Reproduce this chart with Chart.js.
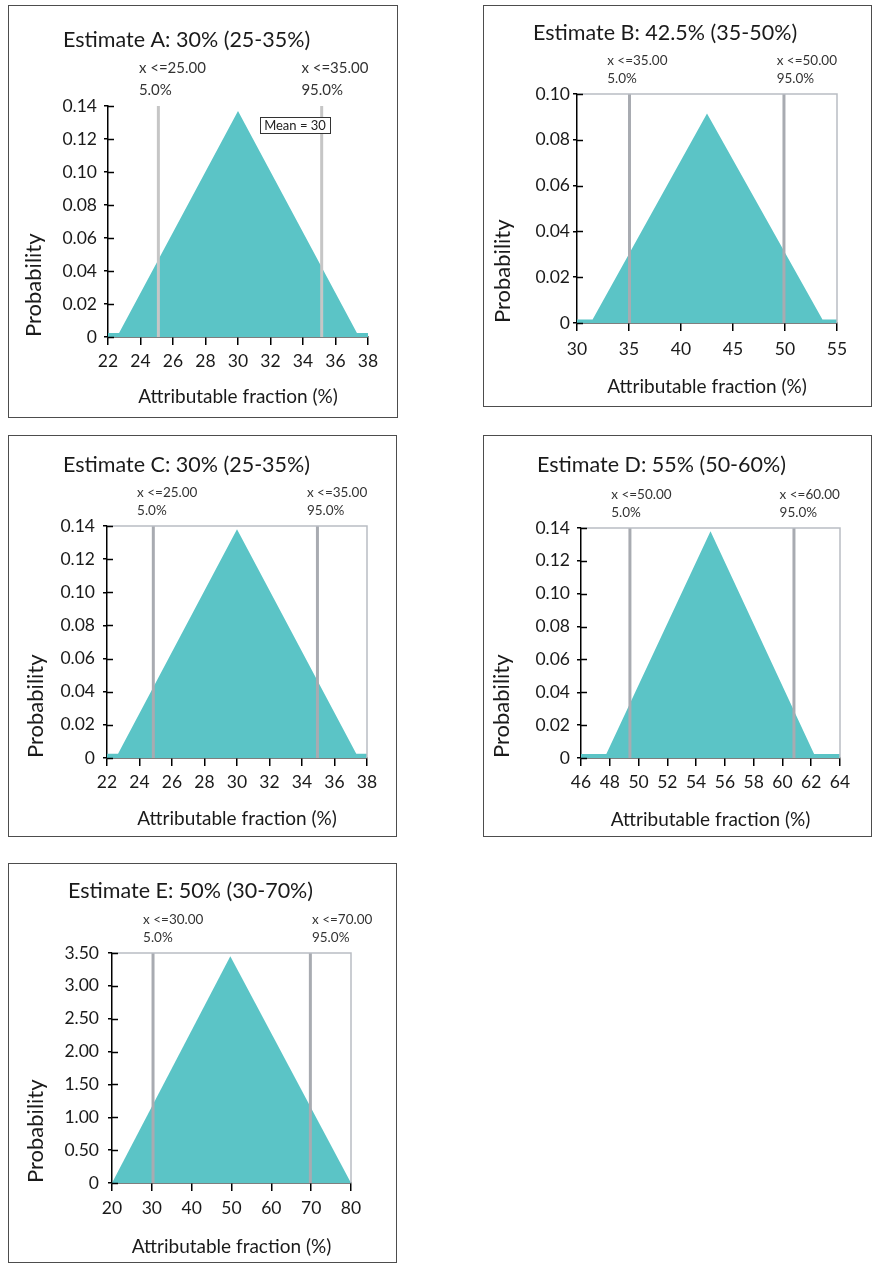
<!DOCTYPE html>
<html>
<head>
<meta charset="utf-8">
<script src="https://cdn.jsdelivr.net/npm/chart.js@4.4.1/dist/chart.umd.min.js"></script>
<style>
  body { margin: 0; background: #fff; width: 875px; height: 1264px; position: relative; overflow: hidden; }
  .panel { position: absolute; border: 1px solid #4d4d4d; box-sizing: border-box; }
  .panel canvas { display: block; }
</style>
</head>
<body>
<div class="panel" style="left:8px;top:5px;width:390px;height:413px"><canvas id="cA"></canvas></div>
<div class="panel" style="left:483px;top:5px;width:389px;height:402px"><canvas id="cB"></canvas></div>
<div class="panel" style="left:8px;top:435px;width:389px;height:402px"><canvas id="cC"></canvas></div>
<div class="panel" style="left:483px;top:435px;width:389px;height:402px"><canvas id="cD"></canvas></div>
<div class="panel" style="left:8px;top:863px;width:389px;height:400px"><canvas id="cE"></canvas></div>
<script>
// --- data ---
const titles = [
  'Estimate A: 30% (25-35%)',
  'Estimate B: 42.5% (35-50%)',
  'Estimate C: 30% (25-35%)',
  'Estimate D: 55% (50-60%)',
  'Estimate E: 50% (30-70%)',
];

// triangle outlines (x = attributable fraction, p = probability)
const estA_x = [22, 22.68, 30, 37.32, 38];
const estA_p = [0.0025, 0.0025, 0.137, 0.0025, 0.0025];
const estB_x = [30, 31.5, 42.5, 53.6, 55];
const estB_p = [0.0015, 0.0015, 0.0915, 0.0015, 0.0015];
const estC_x = [22, 22.68, 30, 37.34, 38];
const estC_p = [0.0025, 0.0025, 0.138, 0.0025, 0.0025];
const estD_x = [46, 47.76, 55, 62.2, 64];
const estD_p = [0.0025, 0.0025, 0.138, 0.0025, 0.0025];
const estE_x = [20, 49.7, 80];
const estE_p = [0, 3.45, 0];

// 5% / 95% cut lines
const cutsA = [25.1, 35.15];
const cutsB = [35.05, 49.9];
const cutsC = [24.85, 34.95];
const cutsD = [49.4, 60.8];
const cutsE = [30.3, 69.8];
const cutTextA = [['x <=25.00', '5.0%'], ['x <=35.00', '95.0%']];
const cutTextB = [['x <=35.00', '5.0%'], ['x <=50.00', '95.0%']];
const cutTextC = [['x <=25.00', '5.0%'], ['x <=35.00', '95.0%']];
const cutTextD = [['x <=50.00', '5.0%'], ['x <=60.00', '95.0%']];
const cutTextE = [['x <=30.00', '5.0%'], ['x <=70.00', '95.0%']];

// tick values
const xTicksA = [22, 24, 26, 28, 30, 32, 34, 36, 38];
const xTicksB = [30, 35, 40, 45, 50, 55];
const xTicksD = [46, 48, 50, 52, 54, 56, 58, 60, 62, 64];
const xTicksE = [20, 30, 40, 50, 60, 70, 80];
const yTicks014 = [0, 0.02, 0.04, 0.06, 0.08, 0.10, 0.12, 0.14];
const yTicks010 = [0, 0.02, 0.04, 0.06, 0.08, 0.10];
const yTicksE = [0, 0.5, 1.0, 1.5, 2.0, 2.5, 3.0, 3.5];

const TEAL = '#5bc4c6';
const FONT = 'Lato';

// per-panel layout
const panels = [
  { id: 'cA', w: 388, h: 411, xs: estA_x, ps: estA_p, cuts: cutsA, cutText: cutTextA, labelAt: [23.9, 33.9],
    xTicks: xTicksA, yTicks: yTicks014, title: titles[0], titlePos: [54, 34],
    pad: { top: 100, right: 29, bottom: 9, left: 12 }, yw: 87, xh: 71, yPad: 7, xPad: 6,
    cutColor: '#c6c6c6', frame: false, labelFont: '15px ' + FONT, labelDy: [-38, -16], mean: 'Mean = 30' },
  { id: 'cB', w: 387, h: 400, xs: estB_x, ps: estB_p, cuts: cutsB, cutText: cutTextB, labelAt: [32.9, 49.2],
    xTicks: xTicksB, yTicks: yTicks010, title: titles[1], titlePos: [49, 27],
    pad: { top: 88, right: 34, bottom: 8, left: 6 }, yw: 87, xh: 75, yPad: 3, xPad: 8,
    cutColor: '#a8abb1', frame: true, labelFont: '13.5px ' + FONT, labelDy: [-33, -15] },
  { id: 'cC', w: 387, h: 400, xs: estC_x, ps: estC_p, cuts: cutsC, cutText: cutTextC, labelAt: [23.85, 34.3],
    xTicks: xTicksA, yTicks: yTicks014, title: titles[2], titlePos: [54, 29],
    pad: { top: 90, right: 29, bottom: 6, left: 14 }, yw: 84, xh: 72, yPad: 8, xPad: 6,
    cutColor: '#a8abb1', frame: true, labelFont: '13.5px ' + FONT, labelDy: [-33, -15] },
  { id: 'cD', w: 387, h: 400, xs: estD_x, ps: estD_p, cuts: cutsD, cutText: cutTextD, labelAt: [48.1, 59.8],
    xTicks: xTicksD, yTicks: yTicks014, title: titles[3], titlePos: [53, 29],
    pad: { top: 92, right: 31, bottom: 5, left: 5 }, yw: 92, xh: 73, yPad: 7, xPad: 6,
    cutColor: '#a8abb1', frame: true, labelFont: '13.5px ' + FONT, labelDy: [-33, -15] },
  { id: 'cE', w: 387, h: 398, xs: estE_x, ps: estE_p, cuts: cutsE, cutText: cutTextE, labelAt: [27.8, 70.2],
    xTicks: xTicksE, yTicks: yTicksE, title: titles[4], titlePos: [59, 27],
    pad: { top: 89, right: 45, bottom: 4, left: 14 }, yw: 89, xh: 75, yPad: 9, xPad: 7,
    cutColor: '#a8abb1', frame: true, labelFont: '13.5px ' + FONT, labelDy: [-33, -15] },
];

// title, frame, inner y ticks, cut labels, mean box
const decor = {
  id: 'decor',
  afterDraw(chart, args, o) {
    const { ctx, chartArea: a, scales: { x, y } } = chart;
    ctx.save();
    if (o.frame) {
      ctx.strokeStyle = '#b9bdc3';
      ctx.lineWidth = 1.5;
      ctx.beginPath();
      ctx.moveTo(a.left, a.top);
      ctx.lineTo(a.right, a.top);
      ctx.lineTo(a.right, a.bottom);
      ctx.stroke();
    }
    ctx.strokeStyle = '#000';
    ctx.lineWidth = 1.5;
    y.ticks.forEach(t => {
      const py = Math.round(y.getPixelForValue(t.value)) + 0.5;
      ctx.beginPath();
      ctx.moveTo(a.left, py);
      ctx.lineTo(a.left + 6, py);
      ctx.stroke();
    });

    ctx.fillStyle = '#1a1a1a';
    ctx.textAlign = 'left';
    ctx.textBaseline = 'middle';
    ctx.font = '21.5px ' + FONT;
    ctx.fillText(o.title, o.titlePos[0], o.titlePos[1]);

    ctx.fillStyle = '#333';
    ctx.font = o.labelFont;
    o.cutText.forEach((lines, i) => {
      const px = x.getPixelForValue(o.labelAt[i]);
      lines.forEach((s, j) => ctx.fillText(s, px, a.top + o.labelDy[j]));
    });

    if (o.mean) {
      const cx = a.left + 187, cy = a.top + 19;
      ctx.font = '13px ' + FONT;
      const tw = ctx.measureText(o.mean).width;
      ctx.fillStyle = '#fff';
      ctx.fillRect(cx - tw / 2 - 4, cy - 8, tw + 8, 16);
      ctx.strokeStyle = '#333';
      ctx.lineWidth = 1;
      ctx.strokeRect(Math.round(cx - tw / 2 - 4) + 0.5, Math.round(cy - 8) + 0.5, Math.round(tw + 8), 16);
      ctx.fillStyle = '#222';
      ctx.textAlign = 'center';
      ctx.fillText(o.mean, cx, cy + 0.5);
    }
    ctx.restore();
  }
};

const fmtY = v => (v === 0 ? '0' : v.toFixed(2));

panels.forEach(P => {
  const canvas = document.getElementById(P.id);
  canvas.width = P.w;
  canvas.height = P.h;
  const yMax = P.yTicks[P.yTicks.length - 1];

  const datasets = P.cuts.map(c => ({
    data: [{ x: c, y: 0 }, { x: c, y: yMax }],
    showLine: true,
    borderColor: P.cutColor,
    borderWidth: 3,
    pointRadius: 0,
    fill: false,
    order: 1,
  }));
  datasets.push({
    data: P.xs.map((v, i) => ({ x: v, y: P.ps[i] })),
    showLine: true,
    fill: 'origin',
    backgroundColor: TEAL,
    borderColor: TEAL,
    borderWidth: 0,
    pointRadius: 0,
    tension: 0,
    order: 2,
  });

  new Chart(canvas, {
    type: 'scatter',
    data: { datasets },
    options: {
      responsive: false,
      animation: false,
      events: [],
      layout: { padding: P.pad },
      plugins: {
        legend: { display: false },
        tooltip: { enabled: false },
        decor: P,
      },
      scales: {
        x: {
          type: 'linear',
          min: P.xTicks[0],
          max: P.xTicks[P.xTicks.length - 1],
          afterBuildTicks: s => { s.ticks = P.xTicks.map(v => ({ value: v })); },
          afterFit: s => { s.height = P.xh; },
          grid: { drawOnChartArea: false, tickLength: 8, color: '#000', lineWidth: 1.5 },
          border: { color: '#000', width: 1.5 },
          ticks: { color: '#1a1a1a', padding: P.xPad, maxRotation: 0, autoSkip: false,
                   font: { family: FONT, size: 17.5 } },
          title: { display: true, text: 'Attributable fraction (%)', color: '#1a1a1a',
                   padding: 0, font: { family: FONT, size: 19 } },
        },
        y: {
          type: 'linear',
          min: 0,
          max: yMax,
          afterBuildTicks: s => { s.ticks = P.yTicks.map(v => ({ value: v })); },
          afterFit: s => { s.width = P.yw; },
          grid: { drawOnChartArea: false, tickLength: 4, color: '#000', lineWidth: 1.5 },
          border: { color: '#000', width: 1.5 },
          ticks: { color: '#1a1a1a', padding: P.yPad, autoSkip: false, callback: fmtY,
                   font: { family: FONT, size: 17.5 } },
          title: { display: true, text: 'Probability', align: 'start', color: '#1a1a1a',
                   padding: 0, font: { family: FONT, size: 22 } },
        },
      },
    },
    plugins: [decor],
  });
});
</script>
</body>
</html>
